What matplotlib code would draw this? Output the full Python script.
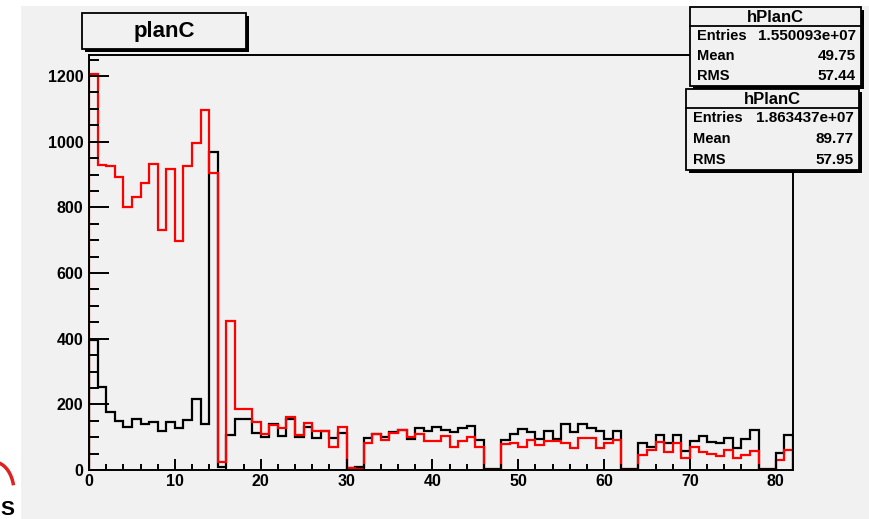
import numpy as np
import matplotlib
matplotlib.use("Agg")
import matplotlib.pyplot as plt
import matplotlib.patches as mpatches

W, H = 869, 519
BG = "#f1f1f1"

bin_edges = np.arange(0, 83)

black_counts = [
    395, 252, 178, 149, 132, 154, 140, 147, 120, 147,
    127, 152, 216, 140, 970, 10, 106, 155, 155, 114,
    101, 139, 105, 155, 101, 132, 98, 119, 98, 112,
    7, 10, 98, 109, 101, 115, 122, 94, 127, 119,
    132, 122, 115, 127, 135, 91, 4, 3, 91, 109,
    125, 117, 94, 119, 94, 139, 115, 139, 127, 119,
    94, 119, 2, 2, 81, 71, 107, 81, 107, 58,
    88, 105, 86, 81, 98, 66, 94, 122, 3, 3,
    51, 107,
]

red_counts = [
    1205, 930, 926, 891, 802, 832, 875, 933, 730, 918,
    697, 926, 997, 1097, 906, 23, 453, 186, 186, 145,
    110, 137, 127, 162, 107, 142, 119, 119, 71, 132,
    5, 3, 81, 109, 91, 112, 122, 101, 109, 88,
    88, 105, 71, 88, 101, 71, 1, 1, 78, 81,
    71, 91, 76, 88, 88, 81, 66, 98, 98, 66,
    81, 91, 1, 1, 46, 61, 84, 56, 81, 36,
    71, 54, 49, 43, 61, 38, 46, 58, 1, 1,
    30, 61,
]

title = "planC"
stat_name = "hPlanC"
stat_labels = ["Entries", "Mean", "RMS"]
black_stats = ["1.550093e+07", "49.75", "57.44"]
red_stats = ["1.863437e+07", "89.77", "57.95"]

FONT = "Liberation Sans"


def fx(x):
    return x / W


def fy(y):
    return 1 - y / H


def shadow_box(fig, x0, y0, x1, y1, shadow=3, z=10):
    # ROOT style box: black shadow offset to the lower right, then the box
    fig.patches.append(mpatches.Rectangle(
        (fx(x0 + shadow), fy(y1 + shadow)), fx(x1 - x0), (y1 - y0) / H,
        transform=fig.transFigure, facecolor="black", edgecolor="none", zorder=z))
    fig.patches.append(mpatches.Rectangle(
        (fx(x0), fy(y1)), fx(x1 - x0), (y1 - y0) / H,
        transform=fig.transFigure, facecolor=BG, edgecolor="black",
        linewidth=1.3, zorder=z + 1))


def stats_box(fig, x0, y0, x1, y1, header_y, values, z):
    shadow_box(fig, x0, y0, x1, y1, z=z)
    fig.add_artist(plt.Line2D([fx(x0), fx(x1)], [fy(header_y), fy(header_y)],
                              color="black", lw=1.3, zorder=z + 2))
    fig.text(fx((x0 + x1) / 2), fy((y0 + header_y) / 2 + 0.5), stat_name,
             ha="center", va="center", fontsize=12, fontweight="bold",
             family=FONT, zorder=z + 3)
    row_h = (y1 - header_y) / 3
    for i, (label, value) in enumerate(zip(stat_labels, values)):
        yc = header_y + row_h * (i + 0.5)
        fig.text(fx(x0 + 7), fy(yc), label, ha="left", va="center",
                 fontsize=10.5, fontweight="bold", family=FONT, zorder=z + 3)
        fig.text(fx(x1 - 5), fy(yc), value, ha="right", va="center",
                 fontsize=11, fontweight="bold", family=FONT, zorder=z + 3)


fig = plt.figure(figsize=(W / 100, H / 100), dpi=100)
fig.patch.set_facecolor(BG)

# white margins of the screenshot
fig.patches.append(mpatches.Rectangle((0, 0), fx(21), 1, transform=fig.transFigure,
                                      facecolor="white", edgecolor="none", zorder=0))
fig.patches.append(mpatches.Rectangle((0, fy(6)), 1, 6 / H, transform=fig.transFigure,
                                      facecolor="white", edgecolor="none", zorder=0))

ax = fig.add_axes([fx(89), fy(470), fx(793 - 89), (470 - 55) / H])
ax.set_facecolor(BG)

ax.stairs(black_counts, bin_edges, color="black", linewidth=1.6)
ax.stairs(red_counts, bin_edges, color="#ff0000", linewidth=1.6)

ax.set_xlim(0, 82)
ax.set_ylim(0, 1264)

ax.set_xticks(np.arange(0, 81, 10))
ax.set_xticks(np.arange(0, 83, 2), minor=True)
ax.set_yticks(np.arange(0, 1201, 200))
ax.set_yticks(np.arange(0, 1251, 50), minor=True)

ax.tick_params(axis="x", which="major", direction="in", length=8, width=1.4, pad=3)
ax.tick_params(axis="x", which="minor", direction="in", length=4, width=1.4)
ax.tick_params(axis="y", which="major", direction="in", length=14.5, width=1.4, pad=4)
ax.tick_params(axis="y", which="minor", direction="in", length=7.2, width=1.4)
ax.tick_params(top=False, right=False, which="both")

for label in ax.get_xticklabels() + ax.get_yticklabels():
    label.set_fontfamily(FONT)
    label.set_fontweight("bold")
    label.set_fontsize(11.5)

for spine in ax.spines.values():
    spine.set_linewidth(1.4)

# title box
shadow_box(fig, 82, 13, 246, 49)
fig.text(fx(164), fy(31.5), title, ha="center", va="center", fontsize=16,
         fontweight="bold", family=FONT, zorder=13)

# statistics boxes, the second one drawn over the first one's shadow
stats_box(fig, 690, 7, 861, 86, 26, black_stats, z=10)
stats_box(fig, 686, 89, 859, 170, 108, red_stats, z=20)

# fragment of a logo cut off at the lower left corner
fig.patches.append(mpatches.Arc((fx(-6), fy(492)), 40 / W, 60 / H, theta1=30, theta2=85,
                                transform=fig.transFigure, color="#dd2222", lw=2.5, zorder=1))
fig.text(fx(0), fy(519), "S", ha="left", va="bottom", fontsize=15,
         fontweight="bold", family=FONT, zorder=1)

fig.savefig("out.png", dpi=100, facecolor=fig.get_facecolor())
